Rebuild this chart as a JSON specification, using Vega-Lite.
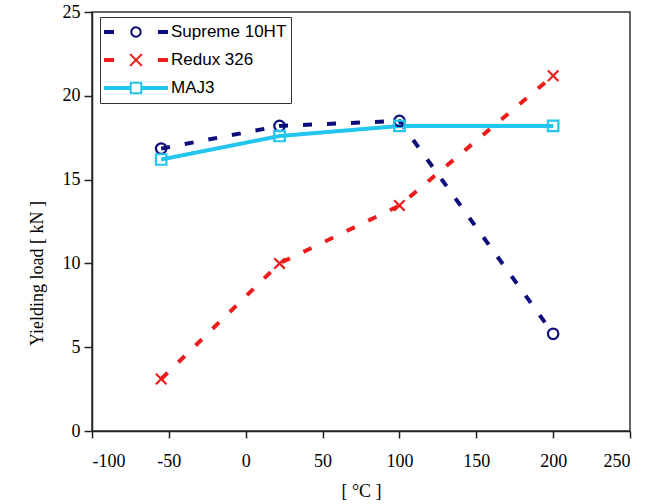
{
  "$schema": "https://vega.github.io/schema/vega-lite/v6.json",
  "autosize": "none",
  "padding": {"left": 92, "top": 12, "right": 27, "bottom": 73},
  "width": 538,
  "height": 419,
  "background": "white",
  "config": {
    "view": {"stroke": "#333333", "strokeWidth": 1.5},
    "axis": {
      "labelFont": "Times New Roman",
      "titleFont": "Times New Roman",
      "labelFontSize": 18,
      "titleFontSize": 18,
      "titleFontWeight": "normal",
      "labelColor": "black",
      "titleColor": "black",
      "domainColor": "#222222",
      "domainWidth": 1.5,
      "tickColor": "#222222",
      "tickWidth": 1.5,
      "grid": false
    },
    "legend": {
      "labelFont": "Liberation Sans",
      "labelFontSize": 17,
      "labelColor": "black"
    }
  },
  "data": {
    "values": [
      {"series": "Supreme 10HT", "temp": -55, "load": 16.85},
      {"series": "Supreme 10HT", "temp": 22, "load": 18.2},
      {"series": "Supreme 10HT", "temp": 100, "load": 18.5},
      {"series": "Supreme 10HT", "temp": 200, "load": 5.8},
      {"series": "Redux 326", "temp": -55, "load": 3.1},
      {"series": "Redux 326", "temp": 22, "load": 10.0},
      {"series": "Redux 326", "temp": 100, "load": 13.45},
      {"series": "Redux 326", "temp": 200, "load": 21.2},
      {"series": "MAJ3", "temp": -55, "load": 16.2},
      {"series": "MAJ3", "temp": 22, "load": 17.6},
      {"series": "MAJ3", "temp": 100, "load": 18.2},
      {"series": "MAJ3", "temp": 200, "load": 18.2}
    ]
  },
  "encoding": {
    "x": {
      "field": "temp", "type": "quantitative",
      "scale": {"domain": [-100, 250], "nice": false, "zero": false},
      "axis": {"values": [-100, -50, 0, 50, 100, 150, 200, 250], "labelExpr": "'' + datum.value", "title": "[ °C ]", "tickSize": 7, "labelPadding": 14, "titlePadding": 12}
    },
    "y": {
      "field": "load", "type": "quantitative",
      "scale": {"domain": [0, 25], "nice": false},
      "axis": {"values": [0, 5, 10, 15, 20, 25], "title": "Yielding load  [ kN ]", "tickSize": 8, "labelPadding": 4, "titleY": 261, "titlePadding": 16}
    }
  },
  "resolve": {"scale": {"shape": "independent"}, "legend": {"shape": "independent", "color": "independent"}},
  "layer": [
    {
      "mark": {"type": "line", "strokeWidth": 4},
      "encoding": {
        "color": {
          "field": "series", "type": "nominal",
          "scale": {"domain": ["Supreme 10HT", "Redux 326", "MAJ3"], "range": ["#0d0d7d", "#ee1c1c", "#22c5ee"]},
          "legend": null
        },
        "strokeDash": {
          "field": "series", "type": "nominal",
          "scale": {"domain": ["Supreme 10HT", "Redux 326", "MAJ3"], "range": [[9, 15], [9, 15], [1, 0]]},
          "legend": null
        }
      }
    },
    {
      "mark": {"type": "point", "filled": false, "strokeWidth": 2.2, "size": 110, "opacity": 1},
      "encoding": {
        "color": {
          "field": "series", "type": "nominal",
          "legend": null
        },
        "shape": {
          "field": "series", "type": "nominal",
          "scale": {"domain": ["Supreme 10HT", "Redux 326", "MAJ3"], "range": ["circle", "M-1,-1L1,1M-1,1L1,-1", "square"]},
          "legend": null
        }
      }
    },
    {
      "mark": {"type": "point", "filled": false, "strokeWidth": 2, "opacity": 0},
      "encoding": {
        "color": {
          "field": "series", "type": "nominal",
          "legend": {
            "title": null,
            "orient": "none",
            "legendX": 8,
            "legendY": 5,
            "padding": 4,
            "strokeColor": "#333333",
            "fillColor": "white",
            "symbolSize": 3844,
            "symbolStrokeWidth": 2,
            "symbolOpacity": 1,
            "symbolFillColor": "transparent",
            "symbolDash": [1, 0],
            "clipHeight": 22,
            "labelOffset": 3,
            "rowPadding": 6
          }
        },
        "shape": {
          "field": "series", "type": "nominal",
          "scale": {"domain": ["Supreme 10HT", "Redux 326", "MAJ3"], "range": [
            "M-1,-0.035L-0.74,-0.035L-0.74,0.035L-1,0.035Z M0.74,-0.035L1,-0.035L1,0.035L0.74,0.035Z M0.15,0A0.15,0.15,0,1,1,-0.15,0A0.15,0.15,0,1,1,0.15,0",
            "M-1,-0.035L-0.74,-0.035L-0.74,0.035L-1,0.035Z M0.74,-0.035L1,-0.035L1,0.035L0.74,0.035Z M-0.19,-0.19L0.19,0.19M-0.19,0.19L0.19,-0.19",
            "M-1,-0.035L-0.17,-0.035L-0.17,0.035L-1,0.035Z M0.17,-0.035L1,-0.035L1,0.035L0.17,0.035Z M-0.17,-0.17L0.17,-0.17L0.17,0.17L-0.17,0.17Z"
          ]},
          "legend": {
            "title": null,
            "orient": "none",
            "legendX": 8,
            "legendY": 5,
            "padding": 4,
            "strokeColor": "#333333",
            "fillColor": "white",
            "symbolSize": 3844,
            "symbolStrokeWidth": 2,
            "symbolOpacity": 1,
            "symbolFillColor": "transparent",
            "symbolDash": [1, 0],
            "clipHeight": 22,
            "labelOffset": 3,
            "rowPadding": 6
          }
        }
      }
    }
  ]
}
